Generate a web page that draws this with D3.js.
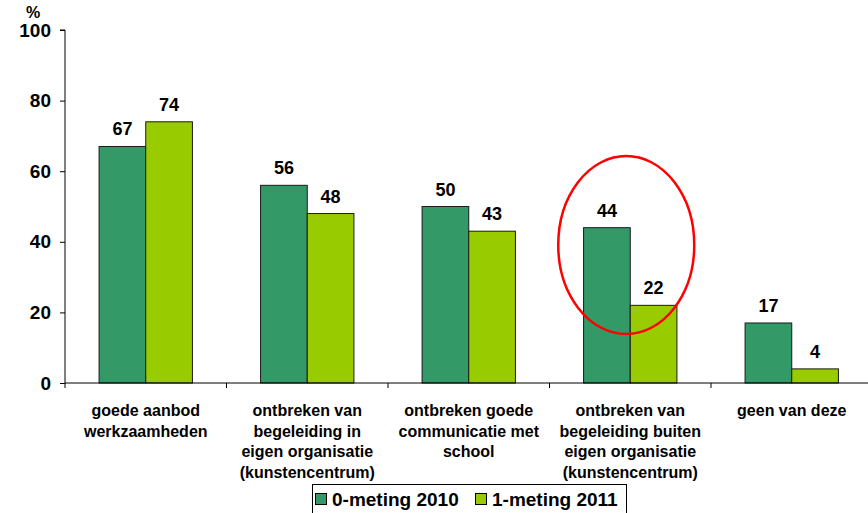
<!DOCTYPE html>
<html><head><meta charset="utf-8">
<script src="https://cdn.jsdelivr.net/npm/d3@7"></script>
<style>body{margin:0;background:#fff;} svg{display:block;font-family:"Liberation Sans",Arial,sans-serif;font-weight:bold;}</style>
</head><body><svg id="c" width="868" height="513"></svg>
<script>
const categories = [
  ["goede aanbod","werkzaamheden"],
  ["ontbreken van","begeleiding in","eigen organisatie","(kunstencentrum)"],
  ["ontbreken goede","communicatie met","school"],
  ["ontbreken van","begeleiding buiten","eigen organisatie","(kunstencentrum)"],
  ["geen van deze"]
];
const seriesNames = ["0-meting 2010","1-meting 2011"];
const values2010 = [67,56,50,44,17];
const values2011 = [74,48,43,22,4];
const yTicks = [0,20,40,60,80,100];
const colors = ["#339966","#99CC00"];

(function(){
const svg = d3.select("#c");
const mLeft = 65, mRight = 872.5, mTop = 30, mBottom = 383;
const x = d3.scaleBand().domain(d3.range(categories.length)).range([mLeft, mRight]).paddingInner(0).paddingOuter(0);
const inner = d3.scaleBand().domain([0,1]).range([0, x.bandwidth()]).paddingInner(0).paddingOuter(0.73);
const y = d3.scaleLinear().domain([0,100]).range([mBottom, mTop]);

// y axis
const yAxis = d3.axisLeft(y).tickValues(yTicks).tickSize(5).tickPadding(9);
const gy = svg.append("g").attr("transform",`translate(${mLeft},0)`).call(yAxis);
gy.select(".domain").attr("stroke","#000").attr("d",`M-5,${mTop}H0V${mBottom}`);
gy.selectAll(".tick line").attr("stroke","#000");
gy.selectAll(".tick text").attr("font-size",19).attr("font-weight","bold").attr("fill","#000").attr("font-family","Liberation Sans, Arial, sans-serif");
svg.append("text").attr("x",33).attr("y",18).attr("text-anchor","middle").attr("font-size",16).text("%");

// bars
const series = [values2010, values2011];
series.forEach((vals, si) => {
  svg.append("g").selectAll("rect").data(vals).join("rect")
    .attr("x",(d,i)=>x(i)+inner(si))
    .attr("y",d=>y(d))
    .attr("width",inner.bandwidth())
    .attr("height",d=>mBottom-y(d))
    .attr("fill",colors[si]).attr("stroke","#1a1a1a").attr("stroke-width",1);
  svg.append("g").selectAll("text").data(vals).join("text")
    .attr("x",(d,i)=>x(i)+inner(si)+inner.bandwidth()/2)
    .attr("y",d=>y(d)-11)
    .attr("text-anchor","middle").attr("font-size",18).attr("fill","#000")
    .text(d=>d);
});

// x axis
const xAxis = d3.axisBottom(x).tickSize(0).tickFormat("");
const gx = svg.append("g").attr("transform",`translate(0,${mBottom})`).call(xAxis);
gx.select(".domain").attr("stroke","#000").attr("d",`M${mLeft},0H${mRight}`);
gx.selectAll(".tick").remove();
const bounds = categories.map((c,i)=>x(i)).concat([mRight]);
svg.append("g").selectAll("line").data(bounds).join("line")
  .attr("x1",d=>d).attr("x2",d=>d).attr("y1",mBottom).attr("y2",mBottom+5).attr("stroke","#000");

categories.forEach((lines,i)=>{
  const t = svg.append("text").attr("text-anchor","middle").attr("font-size",16).attr("fill","#000");
  lines.forEach((ln,j)=>{
    t.append("tspan").attr("x",x(i)+x.bandwidth()/2).attr("y",416+j*20.7).text(ln);
  });
});

// ellipse highlight
svg.append("ellipse").attr("cx",x(3)+x.bandwidth()/2-4).attr("cy",245).attr("rx",68).attr("ry",89)
  .attr("fill","none").attr("stroke","#ff0000").attr("stroke-width",2.5);

// legend
const lg = svg.append("g");
lg.append("rect").attr("x",312.5).attr("y",484.5).attr("width",314).attr("height",40).attr("fill","#fff").attr("stroke","#000");
const lx = [315, 475];
seriesNames.forEach((n,i)=>{
  lg.append("rect").attr("x",lx[i]+0.5).attr("y",493.5).attr("width",11).attr("height",11).attr("fill",colors[i]).attr("stroke","#000");
  lg.append("text").attr("x",lx[i]+17).attr("y",506).attr("font-size",19).attr("fill","#000").text(n);
});
})();
</script></body></html>
